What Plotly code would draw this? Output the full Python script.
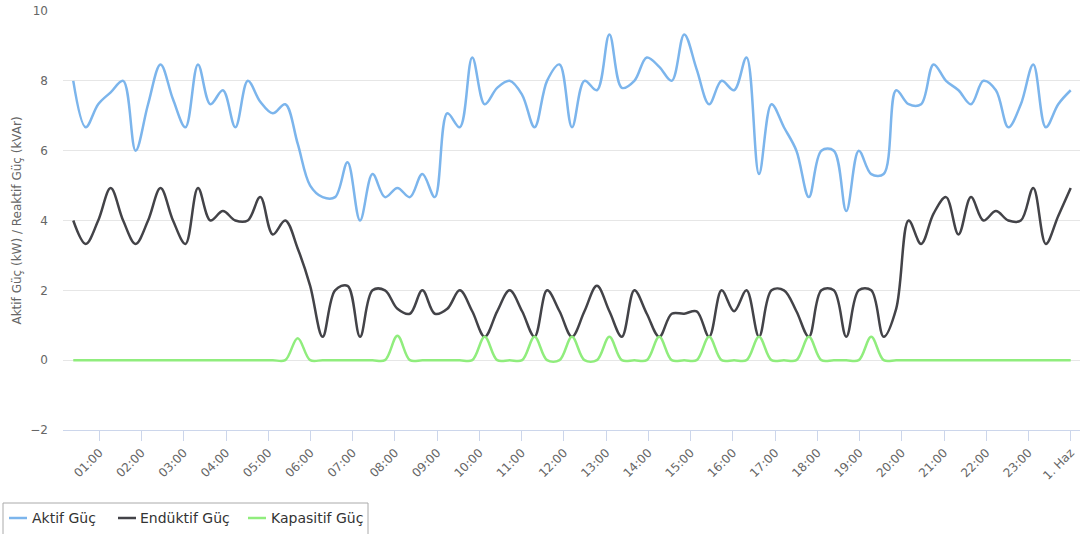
import pandas as pd
import plotly.graph_objects as go

# ---- data ----
start_time = "2024-05-31 00:23:00"
end_time = "2024-06-01 00:00:00"
n_points = 81
times = pd.date_range(start_time, end_time, periods=n_points)

aktif = [8.0, 6.67, 7.33, 7.67, 8.0, 6.0, 7.33, 8.47, 7.47, 6.67,
         8.47, 7.33, 7.73, 6.67, 8.0, 7.4, 7.07, 7.33, 6.2, 5.0,
         4.67, 4.67, 5.67, 4.0, 5.33, 4.67, 4.93, 4.67, 5.33, 4.67,
         7.07, 6.67, 8.67, 7.33, 7.8, 8.0, 7.6, 6.67, 8.0, 8.47,
         6.67, 8.0, 7.73, 9.33, 7.8, 8.0, 8.67, 8.4, 8.0, 9.33,
         8.33, 7.33, 8.0, 7.73, 8.67, 5.33, 7.33, 6.67, 6.0, 4.67,
         6.0, 6.0, 4.27, 6.0, 5.33, 5.33, 7.73, 7.33, 7.33, 8.47,
         8.0, 7.73, 7.33, 8.0, 7.73, 6.67, 7.33, 8.47, 6.67, 7.33,
         7.73]

enduktif = [4.0, 3.33, 4.0, 4.93, 4.0, 3.33, 4.0, 4.93, 4.0, 3.33,
            4.93, 4.0, 4.27, 4.0, 4.0, 4.67, 3.6, 4.0, 3.2, 2.13,
            0.67, 2.0, 2.13, 0.67, 2.0, 2.0, 1.47, 1.33, 2.0, 1.33,
            1.47, 2.0, 1.4, 0.67, 1.4, 2.0, 1.4, 0.67, 2.0, 1.4,
            0.67, 1.4, 2.13, 1.4, 0.67, 2.0, 1.33, 0.67, 1.33, 1.33,
            1.4, 0.67, 2.0, 1.4, 2.0, 0.67, 2.0, 2.0, 1.4, 0.67,
            2.0, 2.0, 0.67, 2.0, 2.0, 0.67, 1.47, 4.0, 3.33, 4.2,
            4.67, 3.6, 4.67, 4.0, 4.27, 4.0, 4.0, 4.93, 3.33, 4.13,
            4.93]

kapasitif = [0, 0, 0, 0, 0, 0, 0, 0, 0, 0,
             0, 0, 0, 0, 0, 0, 0, 0, 0.63, 0,
             0, 0, 0, 0, 0, 0, 0.7, 0, 0, 0,
             0, 0, 0, 0.67, 0, 0, 0, 0.67, 0, 0,
             0.67, 0, 0, 0.67, 0, 0, 0, 0.67, 0, 0,
             0, 0.67, 0, 0, 0, 0.67, 0, 0, 0, 0.67,
             0, 0, 0, 0, 0.67, 0, 0, 0, 0, 0,
             0, 0, 0, 0, 0, 0, 0, 0, 0, 0,
             0]

series_names = ["Aktif Güç", "Endüktif Güç", "Kapasitif Güç"]
series_colors = ["#7cb5ec", "#434348", "#90ed7d"]

tick_times = pd.date_range("2024-05-31 01:00", "2024-06-01 00:00", freq="h")
tick_labels = ["01:00", "02:00", "03:00", "04:00", "05:00", "06:00", "07:00",
               "08:00", "09:00", "10:00", "11:00", "12:00", "13:00", "14:00",
               "15:00", "16:00", "17:00", "18:00", "19:00", "20:00", "21:00",
               "22:00", "23:00", "1. Haz"]

y_title = "Aktif Güç (kW) / Reaktif Güç (kVAr)"

# ---- figure ----
W, H = 1081, 534
ML, MR, MT, MB = 63, 1, 11, 104
PW, PH = W - ML - MR, H - MT - MB

def px_x(px):
    return (px - ML) / PW

def px_y(py):
    return (H - MB - py) / PH

FONT = "DejaVu Sans"
fig = go.Figure()
for name, vals, col in zip(series_names, [aktif, enduktif, kapasitif], series_colors):
    fig.add_trace(go.Scatter(
        x=times, y=vals, name=name, mode="lines",
        line=dict(color=col, width=2.5, shape="spline", smoothing=1.0),
        showlegend=False,
    ))

fig.update_layout(
    width=W, height=H,
    margin=dict(l=ML, r=MR, t=MT, b=MB),
    paper_bgcolor="white", plot_bgcolor="white",
    font=dict(family=FONT, color="#666666", size=12),
    xaxis=dict(
        type="date",
        range=["2024-05-31 00:08:25", "2024-06-01 00:13:12"],
        tickvals=list(tick_times), ticktext=tick_labels,
        tickangle=-45, ticks="outside", ticklen=10, tickcolor="#ccd6eb",
        showline=True, linecolor="#ccd6eb", linewidth=1,
        showgrid=False, zeroline=False,
        tickfont=dict(size=12, color="#666666", family=FONT),
    ),
    yaxis=dict(
        range=[-2, 10], dtick=2, tick0=0,
        showgrid=True, gridcolor="#e6e6e6", gridwidth=1,
        zeroline=False, showline=False, ticks="",
        ticklabelstandoff=14,
        tickfont=dict(size=12, color="#666666", family=FONT),
        title=dict(text=y_title, font=dict(size=12, color="#666666", family=FONT), standoff=6),
    ),
)

# ---- legend (drawn manually to match the reference layout) ----
shapes = [dict(type="rect", xref="paper", yref="paper",
               x0=px_x(3), x1=px_x(368), y0=px_y(503), y1=px_y(545),
               line=dict(color="#aaaaaa", width=1), fillcolor="rgba(0,0,0,0)", layer="above")]
sym_x = [(9, 27), (118, 136), (248, 266)]
txt_x = [32, 140, 271]
ly = 518
for (a, b), tx, name, col in zip(sym_x, txt_x, series_names, series_colors):
    shapes.append(dict(type="line", xref="paper", yref="paper",
                       x0=px_x(a), x1=px_x(b), y0=px_y(ly), y1=px_y(ly),
                       line=dict(color=col, width=2.5)))
    fig.add_annotation(xref="paper", yref="paper", x=px_x(tx), y=px_y(ly),
                       xanchor="left", yanchor="middle", text=name, showarrow=False,
                       borderpad=0, borderwidth=0,
                       font=dict(size=14, color="#333333", family=FONT))
fig.update_layout(shapes=shapes)

fig.write_html(
    "out.html",
    config={"displayModeBar": False},
    post_script="document.body.style.margin='0px';document.body.style.padding='0px';document.body.style.overflow='hidden';",
)
